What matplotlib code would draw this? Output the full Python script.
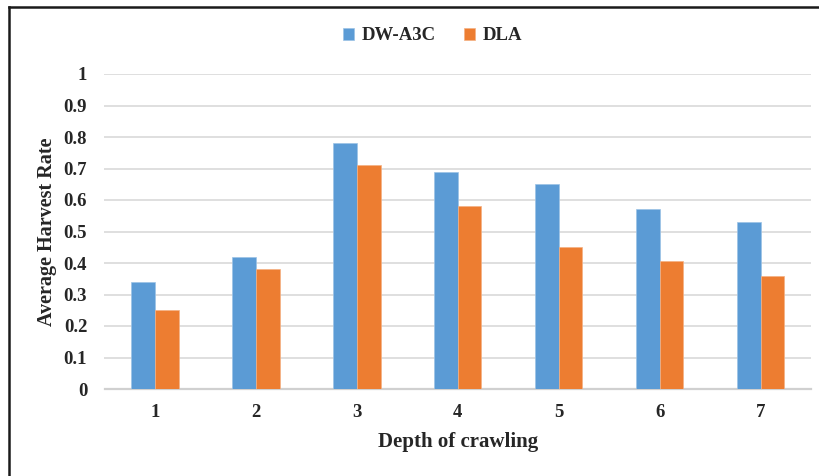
import matplotlib
matplotlib.use("Agg")
import matplotlib.pyplot as plt
from matplotlib.lines import Line2D
import numpy as np

categories = ["1", "2", "3", "4", "5", "6", "7"]
dw_a3c = [0.34, 0.42, 0.78, 0.69, 0.65, 0.57, 0.53]
dla = [0.25, 0.38, 0.71, 0.58, 0.45, 0.405, 0.36]
yticks = [0, 0.1, 0.2, 0.3, 0.4, 0.5, 0.6, 0.7, 0.8, 0.9, 1]
ytick_labels = ["0", "0.1", "0.2", "0.3", "0.4", "0.5", "0.6", "0.7", "0.8", "0.9", "1"]

plt.rcParams['font.family'] = ['Liberation Serif', 'DejaVu Serif']
plt.rcParams['font.weight'] = 'bold'

fig = plt.figure(figsize=(8.2, 4.76), dpi=100)
ax = fig.add_axes([104.5/820, 1-389/476, (811-104.5)/820, (389-74)/476])

x = np.arange(len(categories))
w = 0.235
blue = "#5B9BD5"
orange = "#ED7D31"
ax.bar(x - w/2, dw_a3c, width=w, color=blue, edgecolor="#9CC3E6", linewidth=0.5, label="DW-A3C", zorder=3)
ax.bar(x + w/2, dla, width=w, color=orange, edgecolor="#F4B183", linewidth=0.5, label="DLA", zorder=3)

ax.set_xlim(-0.5, len(categories) - 0.5)
ax.set_ylim(0, 1)
ax.set_yticks(yticks)
ax.set_yticklabels(ytick_labels)
ax.set_xticks(x)
ax.set_xticklabels(categories)
ax.yaxis.grid(True, color="#D9D9D9", linewidth=1.2, zorder=0)
ax.set_axisbelow(True)
for s in ["top", "right", "left"]:
    ax.spines[s].set_visible(False)
ax.spines["bottom"].set_color("#D0D0D0")
ax.spines["bottom"].set_linewidth(1.6)
ax.tick_params(axis="both", length=0, labelsize=13.5, colors="#262626")
ax.tick_params(axis="y", pad=12.5)
ax.tick_params(axis="x", pad=11)
for lab in ax.get_xticklabels() + ax.get_yticklabels():
    lab.set_fontweight("bold")

ax.set_xlabel("Depth of crawling", fontsize=15, fontweight="bold", color="#262626", labelpad=8)
ax.set_ylabel("Average Harvest Rate", fontsize=14.5, fontweight="bold", color="#262626", labelpad=5)

leg = fig.legend(loc="center", bbox_to_anchor=(0.527, 1-36/476), ncol=2, frameon=False,
                 handlelength=0.6, handleheight=0.6, columnspacing=1.5, handletextpad=0.4,
                 prop={'weight': 'bold', 'size': 13.5})
for t in leg.get_texts():
    t.set_color("#262626")

fig.add_artist(Line2D([8.5/820, 8.5/820], [0, 1-6.5/476], transform=fig.transFigure, color="#1a1a1a", linewidth=1.8))
fig.add_artist(Line2D([8.5/820, 1], [1-6.5/476, 1-6.5/476], transform=fig.transFigure, color="#1a1a1a", linewidth=1.8))

fig.savefig("out.png", dpi=100)
